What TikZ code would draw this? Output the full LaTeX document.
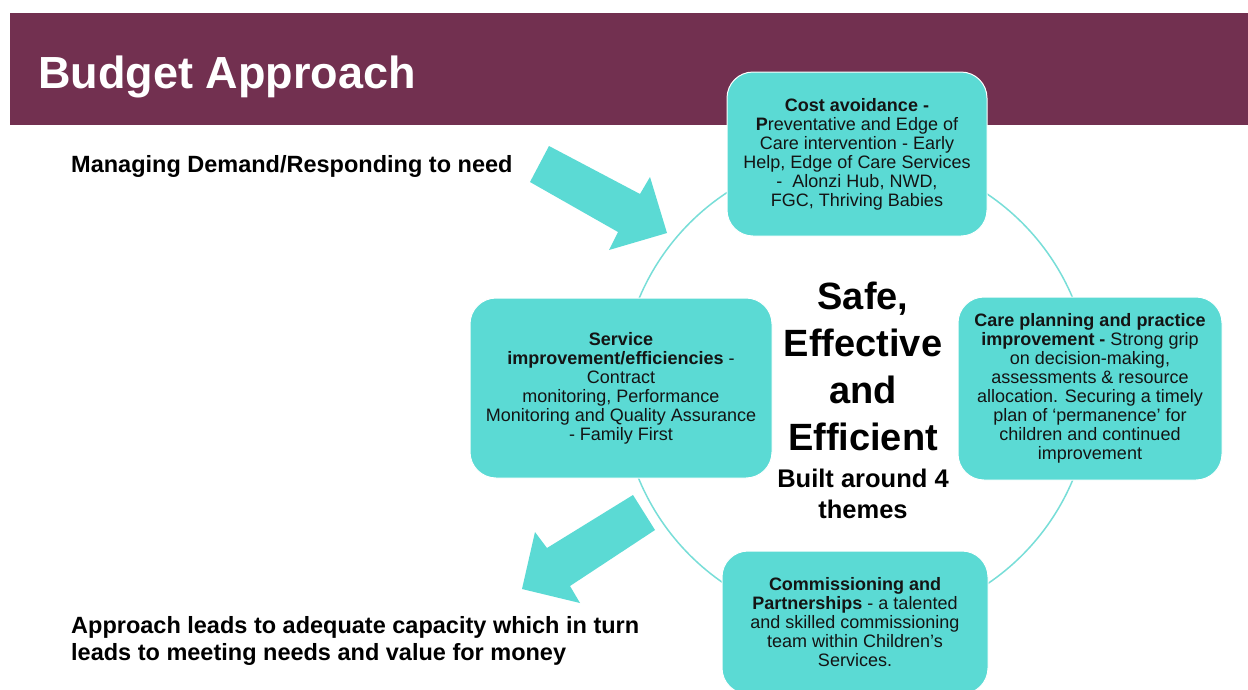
\documentclass[tikz,border=0pt]{standalone}
\usepackage{fontspec}
\setmainfont{Liberation Sans}
\definecolor{banner}{RGB}{114,48,80}
\definecolor{teal}{RGB}{91,218,212}
\definecolor{ring}{RGB}{120,222,216}
\definecolor{ink}{RGB}{20,20,20}
\begin{document}
\begin{tikzpicture}[x=1pt,y=-1pt,
  theme/.style={draw=white,line width=1pt,fill=teal,rounded corners=26pt,
    inner sep=0pt,align=center,text=ink,font=\fontsize{18}{19}\selectfont},
  blockarrow/.style={fill=teal,draw=none},
  lead/.style={anchor=base west,inner sep=0pt,font=\fontsize{23.5}{27}\selectfont\bfseries,align=left}]
\useasboundingbox (0,0) rectangle (1248,689);
\fill[white] (0,0) rectangle (1248,689);

% header band and title
\fill[banner] (10,13) rectangle (1248,125);
\node[anchor=base west,inner sep=0pt,text=white,font=\fontsize{45}{50}\selectfont\bfseries]
  (title) at (38,88) {Budget Approach};

% ring joining the four themes
\draw[ring,line width=1.5pt] (856,389) circle (235);

% the four themes
\node[theme,minimum width=260pt,minimum height=164pt] (cost) at (857,154)
  {\textbf{Cost avoidance -}\\
   \textbf{P}reventative and Edge of\\
   Care intervention - Early\\
   Help, Edge of Care Services\\
   -\ \ Alonzi Hub, NWD,\\
   FGC, Thriving Babies};
\node[theme,minimum width=302pt,minimum height=180pt] (service) at (621,388)
  {\textbf{Service}\\
   \textbf{improvement/efficiencies} -\\
   Contract\\
   monitoring, Performance\\
   Monitoring and Quality Assurance\\
   - Family First};
\node[theme,minimum width=264pt,minimum height=183pt] (care) at (1090,388.5)
  {\textbf{Care planning and practice}\\
   \textbf{improvement -} Strong grip\\
   on decision-making,\\
   assessments \& resource\\
   allocation. Securing a timely\\
   plan of ‘permanence’ for\\
   children and continued\\
   improvement};
\node[theme,minimum width=266pt,minimum height=143pt] (comm) at (855,622.5)
  {\textbf{Commissioning and}\\
   \textbf{Partnerships} - a talented\\
   and skilled commissioning\\
   team within Children’s\\
   Services.};

% centre statement (base anchor sits on the last line)
\node[anchor=base,inner sep=0pt,align=center,font=\fontsize{38}{47}\selectfont\bfseries]
  (safe) at (863,450) {Safe,\\Effective\\and\\Efficient};
\node[anchor=base,inner sep=0pt,align=center,font=\fontsize{25.5}{31}\selectfont\bfseries]
  (built) at (863,518) {Built around 4\\themes};

% side statements
\node[lead] (demand) at (71,172) {Managing Demand/Responding to need};
\node[lead] (outcome) at (71,660) {Approach leads to adequate capacity which in turn\\leads to meeting needs and value for money};

% block arrows in and out of the ring
\fill[blockarrow] (549,146) -- (640,194) -- (650,177) -- (667,233)
  -- (609,250) -- (618,232) -- (530,182) -- cycle;
\fill[blockarrow] (633,495) -- (655,530) -- (570,586) -- (580,603)
  -- (522,589) -- (535,532) -- (547,548) -- cycle;
\end{tikzpicture}
\end{document}
